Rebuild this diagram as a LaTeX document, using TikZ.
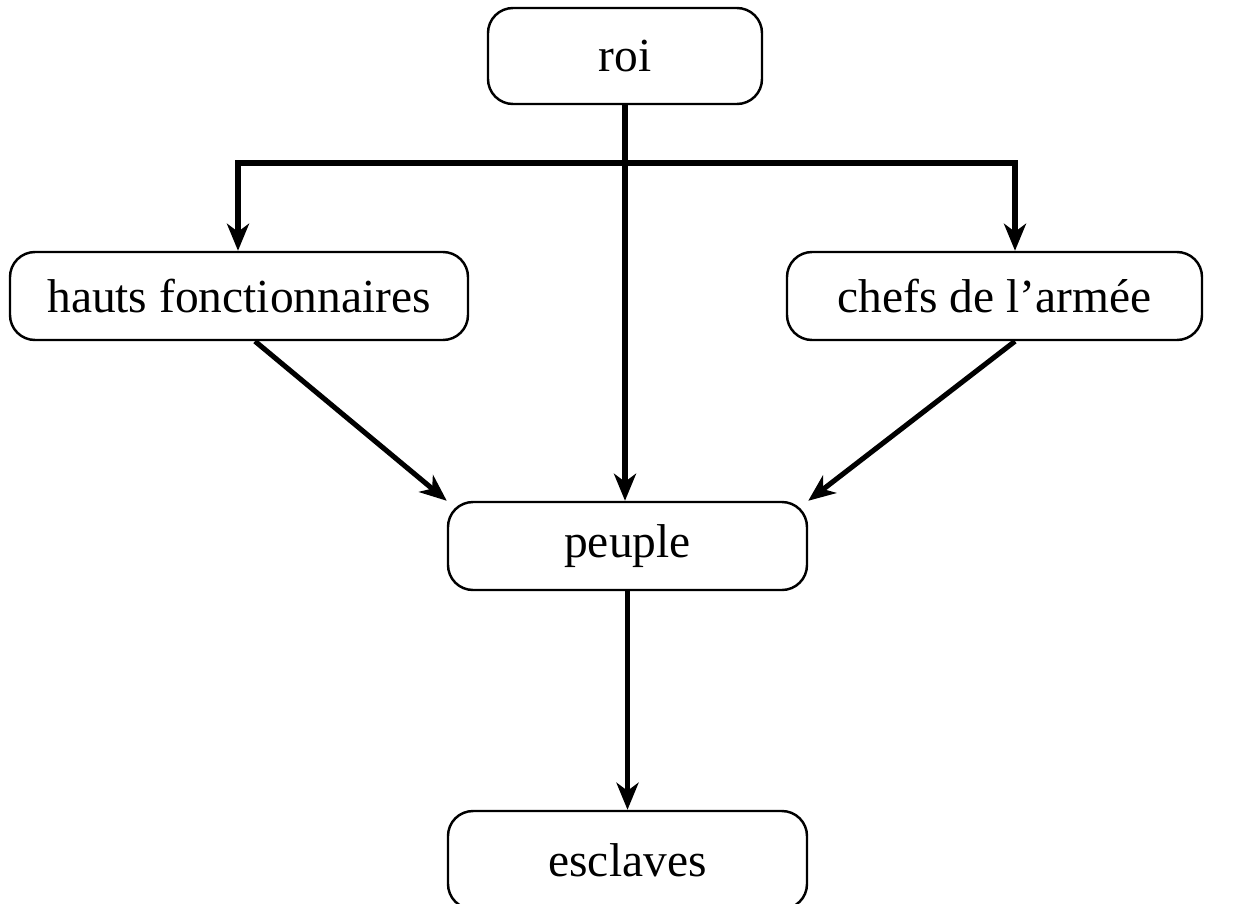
\documentclass[tikz,border=0pt]{standalone}
\usepackage{fontspec}
\setmainfont{Liberation Serif}
\usepackage{tikz}
\usetikzlibrary{arrows,arrows.meta}

\tikzset{
  boite/.style={draw,line width=1.4pt,rounded corners=0.5cm,minimum height=1.76cm,
    font=\fontsize{27}{32}\selectfont,inner sep=0pt},
  pointe/.tip={Stealth[length=0.54cm,width=0.44cm,inset=0.16cm]},
  fleche/.style={line width=2.9pt,-pointe}
}

\begin{document}
\begin{tikzpicture}
\useasboundingbox (0,0) rectangle (24.94,-18.06);

\node[boite,minimum width=5.48cm,minimum height=1.92cm] (roi) at (12.5,-1.12) {roi};
\node[boite,minimum width=9.16cm] (hauts) at (4.78,-5.92) {hauts fonctionnaires};
\node[boite,minimum width=8.3cm] (chefs) at (19.89,-5.92) {chefs de l'armée};
\node[boite,minimum width=7.18cm] (peuple) at (12.55,-10.92) {peuple};
\node[boite,minimum width=7.18cm,minimum height=1.96cm] (esclaves) at (12.55,-17.2) {esclaves};

\coordinate (bg) at (4.76,-3.26);
\coordinate (bd) at (20.3,-3.26);

\draw[fleche] (roi.south) -- (roi.south |- peuple.north);
\draw[fleche,pointe-pointe] (bg |- hauts.north) -- (bg) -- (bd) -- (bd |- chefs.north);
\draw[fleche] ([xshift=0.32cm]hauts.south) -- (peuple.north west);
\draw[fleche] (bd |- chefs.south) -- (peuple.north east);
\draw[fleche] (peuple.south) -- (esclaves.north);

\end{tikzpicture}
\end{document}
